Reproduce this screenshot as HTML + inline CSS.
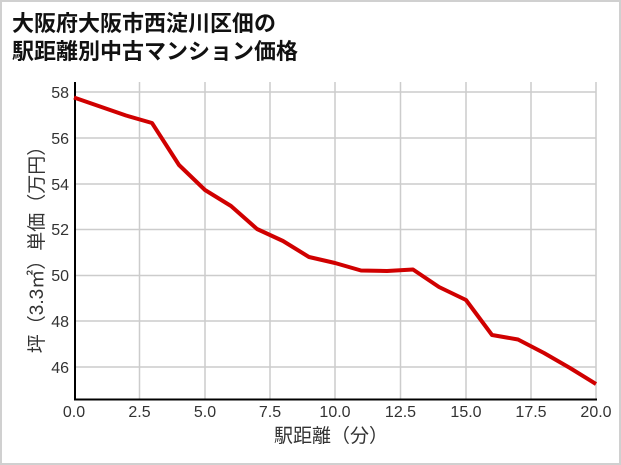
<!DOCTYPE html>
<html><head><meta charset="utf-8"><style>
body{margin:0;background:#fff;}
svg{display:block;font-family:"Liberation Sans","Noto Sans CJK JP",sans-serif;}
</style></head><body>
<svg width="621" height="465" viewBox="0 0 621 465">
<rect x="1" y="1" width="619" height="463" fill="#fff" stroke="#d0d0d0" stroke-width="2"/>
<text x="12" y="31" font-size="22" font-weight="bold" fill="#111">大阪府大阪市西淀川区佃の</text>
<text x="12" y="59" font-size="22" font-weight="bold" fill="#111">駅距離別中古マンション価格</text>
<g stroke="#cccccc" stroke-width="1.5">
<line x1="139.5" y1="82" x2="139.5" y2="399"/><line x1="205" y1="82" x2="205" y2="399"/><line x1="270" y1="82" x2="270" y2="399"/><line x1="335" y1="82" x2="335" y2="399"/><line x1="400.5" y1="82" x2="400.5" y2="399"/><line x1="466" y1="82" x2="466" y2="399"/><line x1="531" y1="82" x2="531" y2="399"/><line x1="596" y1="82" x2="596" y2="399"/>
<line x1="75" y1="92" x2="596" y2="92"/><line x1="75" y1="138" x2="596" y2="138"/><line x1="75" y1="184" x2="596" y2="184"/><line x1="75" y1="229.5" x2="596" y2="229.5"/><line x1="75" y1="275.5" x2="596" y2="275.5"/><line x1="75" y1="321" x2="596" y2="321"/><line x1="75" y1="367" x2="596" y2="367"/>
</g>
<line x1="75" y1="82" x2="75" y2="400" stroke="#000" stroke-width="2"/>
<line x1="74" y1="399.5" x2="597" y2="399.5" stroke="#000" stroke-width="2"/>
<polyline fill="none" stroke="#d00000" stroke-width="4" stroke-linejoin="round" points="74,97.5 100,106.5 126,115.5 152,123 179,165 205,190 231,206 257,229 283,241 309,257 335,263 361,270.5 387,271 413,269.5 439,287 466,300 492,335 518,339.5 544,353 570,368 596,384"/>
<g font-size="16" fill="#333" text-anchor="end">
<text x="69" y="98">58</text><text x="69" y="144">56</text><text x="69" y="190">54</text><text x="69" y="235">52</text><text x="69" y="281">50</text><text x="69" y="327">48</text><text x="69" y="373">46</text>
</g>
<g font-size="16" fill="#333" text-anchor="middle">
<text x="74" y="417">0.0</text><text x="139.5" y="417">2.5</text><text x="205" y="417">5.0</text><text x="270" y="417">7.5</text><text x="335" y="417">10.0</text><text x="400.5" y="417">12.5</text><text x="466" y="417">15.0</text><text x="531" y="417">17.5</text><text x="596" y="417">20.0</text>
</g>
<text x="331" y="442" font-size="19" fill="#333" text-anchor="middle">駅距離（分）</text>
<text transform="translate(43,245) rotate(-90)" font-size="19" fill="#333" text-anchor="middle">坪（3.3㎡）単価（万円）</text>
</svg>
</body></html>
